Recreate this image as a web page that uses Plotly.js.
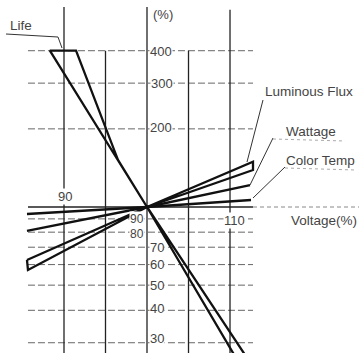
<!DOCTYPE html>
<html>
<head>
<meta charset="utf-8">
<script src="https://cdn.plot.ly/plotly-3.0.1.min.js"></script>
<style>html,body{margin:0;padding:0;background:#fff;}#chart{width:359px;height:353px;}</style>
</head>
<body>
<div id="chart"></div>
<script>
// ---- data (voltage %, value %) ----
const voltTicks = [90, 95, 100, 105, 110];
const voltTickLabels = ["90", "", "", "", "110"];
const vLineTop = [590, 400, 590, 400, 575];
const pctTicks = [30, 40, 50, 60, 70, 80, 90, 200, 300, 400];

const lifeV = [112.2, 100, 88.3, 91.45, 96.5, 100, 110.85];
const lifeP = [25.8, 100, 400, 400, 152, 100, 25.8];

const fluxV = [85.54, 100, 112.77, 112.77, 100, 85.66, 85.54];
const fluxP = [62.5, 100, 149.4, 138.8, 100, 57.2, 62.5];

const wattV = [85.54, 100, 112.41];
const wattP = [81.0, 100, 121.5];

const ctV = [85.54, 100, 112.53];
const ctP = [94.0, 100, 106.4];

// ---- layout helpers (pixel -> paper) ----
const W = 359, H = 353;
const px = x => x / W;
const py = y => 1 - y / H;

const ink = '#111';
const traces = [
  {x: lifeV, y: lifeP},
  {x: fluxV, y: fluxP},
  {x: wattV, y: wattP},
  {x: ctV, y: ctP}
].map(t => Object.assign(t, {type: 'scatter', mode: 'lines', hoverinfo: 'skip',
  line: {color: ink, width: 2.3}, showlegend: false}));

const shapes = [];
const xMin = 85.66, xMax = 112.77;
// horizontal dashed grid
pctTicks.forEach(p => shapes.push({type: 'line', xref: 'x', yref: 'y', x0: xMin, x1: xMax, y0: p, y1: p,
  line: {color: '#666', width: 1, dash: '7px,3px'}, layer: 'below'}));
// 100% line (solid part + dashed extension)
shapes.push({type: 'line', xref: 'x', yref: 'y', x0: xMin, x1: xMax, y0: 100, y1: 100,
  line: {color: '#222', width: 1.4}, layer: 'below'});
shapes.push({type: 'line', xref: 'x', yref: 'y', x0: xMax, x1: 126, y0: 100, y1: 100,
  line: {color: '#888', width: 1, dash: '4px,3px'}, layer: 'below'});
// vertical grid lines
voltTicks.forEach((v, i) => shapes.push({type: 'line', xref: 'x', yref: 'y', x0: v, x1: v, y0: 20, y1: vLineTop[i],
  line: {color: '#222', width: 1.3}, layer: 'below'}));

// leader lines (paper coordinates)
const lead = (pts, opt) => shapes.push(Object.assign({type: 'path', xref: 'paper', yref: 'paper',
  path: pts.map((p, i) => (i ? 'L' : 'M') + px(p[0]) + ',' + py(p[1])).join(' '),
  line: {color: '#333', width: 1}}, opt || {}));
lead([[6, 34], [58, 37], [62, 48]]);
lead([[263, 100], [247, 162]]);
lead([[273, 138], [250, 185]]);
lead([[285, 167], [253, 198]]);
lead([[273, 139], [345, 141]], {line: {color: '#aaa', width: 1, dash: 'dot'}});
lead([[285, 168], [356, 170]], {line: {color: '#aaa', width: 1, dash: 'dot'}});

const font = {family: 'Liberation Sans, Arial, sans-serif', size: 13, color: '#444'};
const ann = (text, x, y, size, bg) => ({text: text, xref: 'paper', yref: 'paper', x: px(x), y: py(y),
  xanchor: 'center', yanchor: 'middle', showarrow: false, bgcolor: bg ? '#fff' : 'rgba(0,0,0,0)', borderpad: 0,
  font: Object.assign({}, font, {size: size})});

const annotations = [
  ann('(%)', 163, 14, 13, false),
  ann('400', 161, 51, 13, true),
  ann('300', 162, 83, 13, true),
  ann('200', 161, 128, 13, true),
  ann('90', 137, 218.5, 12, true),
  ann('80', 137, 233.5, 12, true),
  ann('70', 157, 247, 13, true),
  ann('60', 157, 264, 13, true),
  ann('50', 157, 285, 13, true),
  ann('40', 157, 308, 13, true),
  ann('30', 157, 338, 13, true),
  ann(voltTickLabels[0], 65, 196, 13, true),
  ann(voltTickLabels[4], 234, 220, 13, true),
  ann('Voltage(%)', 324, 220, 13.5, false),
  ann('Life', 21, 25, 13.5, false),
  ann('Luminous Flux', 309, 91, 13.5, false),
  ann('Wattage', 311, 131, 13.5, false),
  ann('Color Temp', 320, 160, 13.5, false)
];

const layout = {
  width: W, height: H,
  margin: {l: 0, r: 0, t: 0, b: 0, pad: 0},
  paper_bgcolor: '#fff', plot_bgcolor: '#fff',
  xaxis: {range: [82.29, 125.54], showgrid: false, zeroline: false, showticklabels: false, ticks: '', showline: false, fixedrange: true},
  yaxis: {type: 'log', range: [1.4376, 2.7974], showgrid: false, zeroline: false, showticklabels: false, ticks: '', showline: false, fixedrange: true},
  shapes: shapes,
  annotations: annotations,
  showlegend: false
};

Plotly.newPlot('chart', traces, layout, {staticPlot: true, displayModeBar: false});
</script>
</body>
</html>
